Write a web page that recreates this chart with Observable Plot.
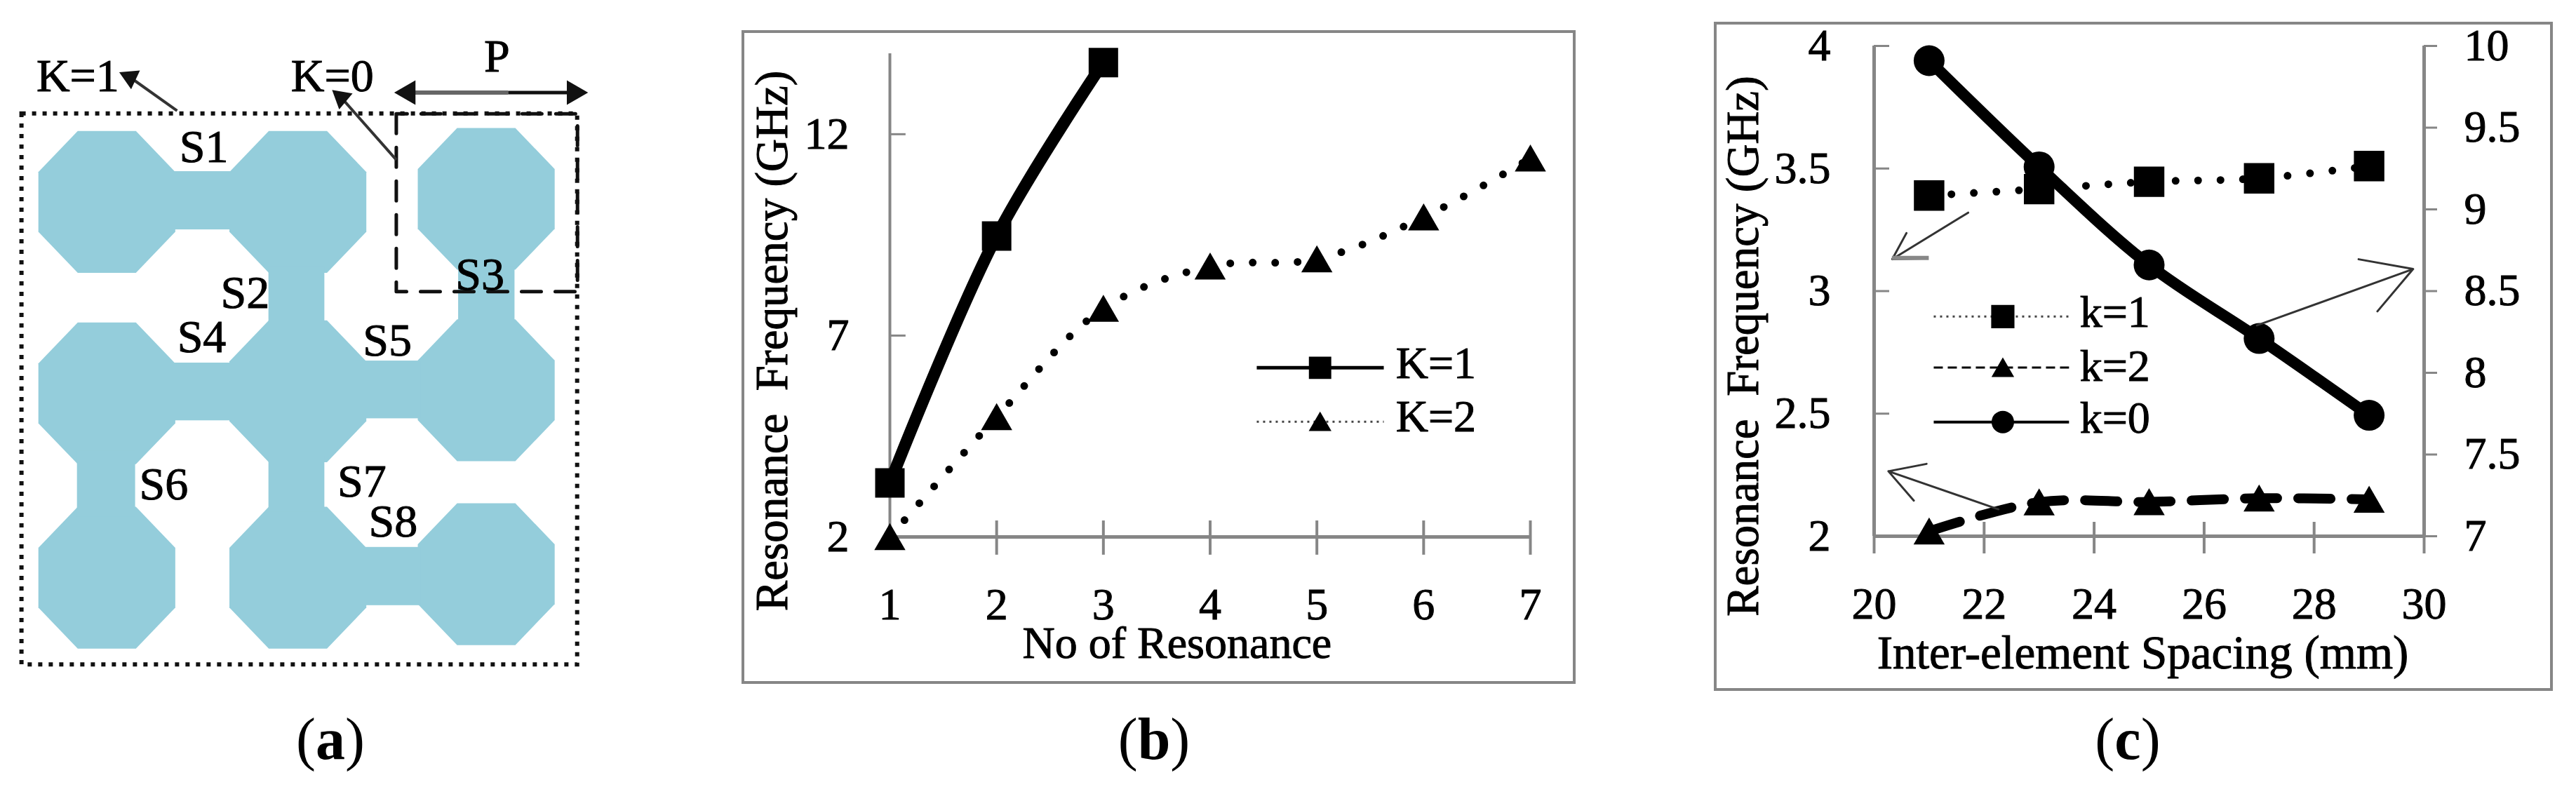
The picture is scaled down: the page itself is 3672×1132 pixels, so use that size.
<!DOCTYPE html>
<html>
<head>
<meta charset="utf-8">
<script src="https://cdn.jsdelivr.net/npm/d3@7"></script>
<script src="https://cdn.jsdelivr.net/npm/@observablehq/plot@0.6"></script>
<style>
  html,body{margin:0;padding:0;background:#fff;width:3672px;height:1132px;overflow:hidden}
  #page{position:relative;width:3672px;height:1132px}
  .panel{position:absolute}
  .panel svg{display:block;overflow:visible;background:transparent}
  .panel svg text{stroke:#000;stroke-width:1px}
  .framed svg{outline:4px solid #868686;outline-offset:-2px}
  .cap{position:absolute;top:1012px;width:300px;margin-left:-150px;text-align:center;font:84px/1 "Liberation Serif",serif;color:#000}
</style>
</head>
<body>
<div id="page"></div>
<script>
// ---------- panel (a): layout diagram, in drawing units ----------
const octCx = [238,665,1086, 238,665,1086, 238,665,1086];
const octCy = [398,398,392, 776,772,770, 1140,1140,1133];
const octHalfW = 153, octHalfH = 140, octCutX = 65, octCutY = 59;
const stripX1 = [380,600,1024,380,810,172,600,810];
const stripX2 = [520,725,1150,520,940,302,725,940];
const stripY1 = [338,525,525,716,712,890,900,1080];
const stripY2 = [453,640,640,830,826,1020,1010,1195];
const aLabels = ["S1","S2","S3","S4","S5","S6","S7","S8","K=1","K=0","P"];
const aLabelX = [455,547,1072,450,865,365,808,878,173,742,1110];
const aLabelY = [290,578,542,666,672,956,950,1030,150,150,112];
const outerBox = {x1:48,x2:1290,y1:224,y2:1312};
const cellX = [885,885,1290,1290,885];
const cellY = [224,575,575,224,224];
const arrowX1 = [395,885], arrowY1 = [218,315], arrowX2 = [290,762], arrowY2 = [152,192];
const arrowRot = [-65,-50];

// ---------- panel (b) ----------
const bX = [1,2,3,4,5,6,7];
const bK1X = [1,2,3];
const bK1 = [3.34,9.47,13.78];
const bK2 = [2.0,4.98,7.67,8.72,8.9,9.94,11.4];
const bYTicks = [2,7,12];

// ---------- panel (c) ----------
const cX = [21,23,25,27,29];
const cK1 = [3.39,3.416,3.446,3.46,3.51];
const cK2 = [2.02,2.139,2.14,2.155,2.15];
const cK0Right = [9.91,9.26,8.66,8.21,7.74];
const cXTicks = [20,22,24,26,28,30];
const cLeftTicks = [2,2.5,3,3.5,4];
const cRightTicks = [7,7.5,8,8.5,9,9.5,10];

const FONT = '"Liberation Serif", serif';
const GRAY = "#868686";
const style = {fontFamily: FONT, background: "transparent", color: "#000"};

function mount(el, left, top, cls){
  const d = document.createElement("div");
  d.className = "panel " + (cls||"");
  d.style.left = left + "px"; d.style.top = top + "px";
  d.appendChild(el);
  document.getElementById("page").appendChild(d);
}
function caption(letter, cx){
  const c = document.createElement("div");
  c.className = "cap"; c.style.left = cx + "px";
  c.innerHTML = "(<b>" + letter + "</b>)";
  document.getElementById("page").appendChild(c);
}

// ===== (a)
const octRows = octCx.flatMap((cx,i)=>{
  const cy = octCy[i];
  const pts = [[-octCutX,-octHalfH],[octCutX,-octHalfH],[octHalfW,-octCutY],[octHalfW,octCutY],
               [octCutX,octHalfH],[-octCutX,octHalfH],[-octHalfW,octCutY],[-octHalfW,-octCutY],[-octCutX,-octHalfH]];
  return pts.map(p=>({id:i,x:cx+p[0],y:cy+p[1]}));
});
const TEAL = "#94cddb";
mount(Plot.plot({
  width:1000,height:1000,margin:0,style,
  x:{domain:[0,1568],range:[0,1000],axis:null},
  y:{domain:[0,1385],range:[0,1000],axis:null},
  marks:[
    Plot.line(octRows,{x:"x",y:"y",z:"id",fill:TEAL,stroke:"none"}),
    Plot.rect(stripX1,{x1:stripX1,x2:stripX2,y1:stripY1,y2:stripY2,fill:TEAL}),
    Plot.rect([outerBox],{x1:"x1",x2:"x2",y1:"y1",y2:"y2",fill:"none",stroke:"#111",strokeWidth:6,strokeDasharray:"6 9"}),
    Plot.line(cellX,{x:cellX,y:cellY,stroke:"#111",strokeWidth:5,strokeDasharray:"28 20"}),
    Plot.link(arrowX1,{x1:arrowX1,y1:arrowY1,x2:arrowX2,y2:arrowY2,stroke:"#333",strokeWidth:4}),
    Plot.dot(arrowX2,{x:arrowX2,y:arrowY2,symbol:"triangle",r:11,fill:"#111",rotate:arrowRot}),
    Plot.link([1135],{x1:[1135],x2:[920],y1:[182],y2:[182],stroke:"#666",strokeWidth:6}),
    Plot.link([1135],{x1:[1135],x2:[1280],y1:[182],y2:[182],stroke:"#111",strokeWidth:5}),
    Plot.dot([912,1282],{x:[912,1282],y:[182,182],symbol:"triangle",r:13,fill:"#111",rotate:[-90,90]}),
    Plot.text(aLabels,{x:aLabelX,y:aLabelY,text:d=>d,fontSize:66,fill:"#000"})
  ]
}),0,0);
caption("a",471);

// ===== (b)
mount(Plot.plot({
  width:1185,height:928,
  marginLeft:209,marginRight:63,marginTop:31,marginBottom:208,
  style,
  x:{domain:[1,7],axis:null},
  y:{domain:[2,14],axis:null},
  marks:[
    Plot.ruleX([1],{y1:2,y2:14,stroke:GRAY,strokeWidth:4}),
    Plot.ruleY([2],{x1:1,x2:7,stroke:GRAY,strokeWidth:5}),
    Plot.ruleY(bYTicks.slice(1),{x1:1,x2:1.15,stroke:GRAY,strokeWidth:3}),
    Plot.ruleX(bX.slice(1),{y1:1.55,y2:2.4,stroke:GRAY,strokeWidth:4}),
    Plot.axisY({ticks:bYTicks,tickSize:0,tickPadding:58,fontSize:64,label:null}),
    Plot.axisX({ticks:bX,tickSize:0,tickPadding:72,fontSize:64,label:null,tickFormat:d=>d}),
    Plot.line(bK1X,{x:bK1X,y:bK1,stroke:"#000",strokeWidth:17,curve:"catmull-rom"}),
    Plot.line(bX,{x:bX,y:bK2,stroke:"#000",strokeWidth:11,strokeDasharray:"0 32",strokeLinecap:"round",curve:"catmull-rom"}),
    Plot.dot(bK1X,{x:bK1X,y:bK1,symbol:"square",r:23.7,fill:"#000"}),
    Plot.dot(bX,{x:bX,y:bK2,symbol:"triangle",r:16.5,fill:"#000",dy:6}),
    // legend
    Plot.ruleY([6.2],{x1:4.44,x2:5.63,stroke:"#000",strokeWidth:5}),
    Plot.dot([5.03],{x:[5.03],y:[6.2],symbol:"square",r:18,fill:"#000"}),
    Plot.ruleY([4.86],{x1:4.44,x2:5.63,stroke:"#444",strokeWidth:3,strokeDasharray:"3 6"}),
    Plot.dot([5.03],{x:[5.03],y:[4.86],symbol:"triangle",r:12,fill:"#000",dy:4}),
    Plot.text(["K=1","K=2"],{x:[5.74,5.74],y:[6.3,4.985],text:d=>d,textAnchor:"start",fontSize:64,fill:"#000"}),
    // axis titles
    Plot.text(["No of Resonance"],{x:[3.69],y:[2-152/57.45],text:d=>d,fontSize:64,fill:"#000"}),
    Plot.text(["Resonance  Frequency (GHz)"],{x:[1-167/152.2],y:[6.87],text:d=>d,rotate:-90,fontSize:65,fill:"#000"})
  ]
}),1059,45,"framed");
caption("b",1645);

// ===== (c)
const toLeft = v => 2 + (v-7)*2/3;
const cK0 = cK0Right.map(toLeft);
const cPxX = 78.4, cPxY = 349.5;
mount(Plot.plot({
  width:1192,height:950,
  marginLeft:226,marginRight:182,marginTop:32,marginBottom:219,
  style,
  x:{domain:[20,30],axis:null},
  y:{domain:[2,4],axis:null},
  marks:[
    Plot.ruleX([20,30],{y1:2,y2:4,stroke:GRAY,strokeWidth:5}),
    Plot.ruleY([2],{x1:20,x2:30,stroke:GRAY,strokeWidth:5}),
    Plot.ruleY(cLeftTicks.slice(1),{x1:20,x2:20+22/cPxX,stroke:GRAY,strokeWidth:3}),
    Plot.ruleY(cRightTicks.map(toLeft),{x1:30,x2:30+19/cPxX,stroke:GRAY,strokeWidth:3}),
    Plot.ruleX(cXTicks,{y1:2-25/cPxY,y2:2+20/cPxY,stroke:GRAY,strokeWidth:4}),
    Plot.axisY({ticks:cLeftTicks,tickSize:0,tickPadding:62,fontSize:64,label:null,tickFormat:d=>d}),
    Plot.axisY({anchor:"right",ticks:cRightTicks.map(toLeft),tickSize:0,tickPadding:57,fontSize:64,label:null,tickFormat:(d,i)=>cRightTicks[i]}),
    Plot.axisX({ticks:cXTicks,tickSize:0,tickPadding:72,fontSize:64,label:null,tickFormat:d=>d}),
    // series
    Plot.line(cX,{x:cX,y:cK0,stroke:"#000",strokeWidth:16,curve:"catmull-rom"}),
    Plot.dot(cX,{x:cX,y:cK0,r:22,fill:"#000"}),
    Plot.line(cX,{x:cX,y:cK1,stroke:"#000",strokeWidth:11,strokeDasharray:"0 32",strokeLinecap:"round",curve:"catmull-rom"}),
    Plot.dot(cX,{x:cX,y:cK1,symbol:"square",r:24.5,fill:"#000"}),
    Plot.line(cX,{x:cX,y:cK2,stroke:"#000",strokeWidth:14,strokeDasharray:"46 30",curve:"catmull-rom"}),
    Plot.dot(cX,{x:cX,y:cK2,symbol:"triangle",r:16.5,fill:"#000",dy:6}),
    // annotation arrows
    Plot.arrow([0],{x1:[21.71],y1:[3.32],x2:[20.33],y2:[3.13],stroke:"#333",strokeWidth:3,headLength:42}),
    Plot.ruleY([3.135],{x1:20.33,x2:21.0,stroke:"#888",strokeWidth:6}),
    Plot.arrow([0],{x1:[26.96],y1:[2.86],x2:[29.8],y2:[3.09],stroke:"#333",strokeWidth:3,headLength:42}),
    Plot.arrow([0],{x1:[22.26],y1:[2.11],x2:[20.26],y2:[2.265],stroke:"#333",strokeWidth:3,headLength:42}),
    // legend
    Plot.ruleY([2.896],{x1:21.09,x2:23.55,stroke:"#444",strokeWidth:3,strokeDasharray:"3 6"}),
    Plot.dot([22.34],{x:[22.34],y:[2.896],symbol:"square",r:18.7,fill:"#000"}),
    Plot.ruleY([2.688],{x1:21.09,x2:23.55,stroke:"#000",strokeWidth:3,strokeDasharray:"13 7"}),
    Plot.dot([22.34],{x:[22.34],y:[2.688],symbol:"triangle",r:12,fill:"#000",dy:4}),
    Plot.ruleY([2.466],{x1:21.09,x2:23.55,stroke:"#000",strokeWidth:4}),
    Plot.dot([22.34],{x:[22.34],y:[2.466],r:16,fill:"#000"}),
    Plot.text(["k=1","k=2","k=0"],{x:[23.74,23.74,23.74],y:[2.913,2.692,2.48],text:d=>d,textAnchor:"start",fontSize:64,fill:"#000"}),
    // axis titles
    Plot.text(["Inter-element Spacing (mm)"],{x:[25+(3054-3063)/cPxX],y:[2-167/cPxY],text:d=>d,fontSize:67,fill:"#000"}),
    Plot.text(["Resonance  Frequency (GHz)"],{x:[20-186/cPxX],y:[2+(764-493)/cPxY],text:d=>d,rotate:-90,fontSize:65,fill:"#000"})
  ]
}),2445,33,"framed");
caption("c",3033);
</script>
</body>
</html>
